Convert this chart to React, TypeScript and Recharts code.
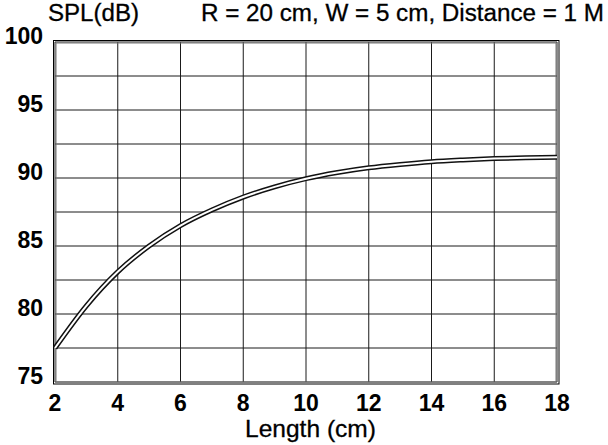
import React from 'react';
import { CartesianGrid, Line, LineChart, ReferenceArea, XAxis, YAxis } from 'recharts';

// values
const lengthCm = [2, 3, 4, 5, 6, 7, 8, 9, 10, 11, 12, 13, 14, 15, 16, 17, 18];
const splDb = [77.5, 80.6, 83.1, 85.0, 86.5, 87.65, 88.6, 89.35, 89.95, 90.4, 90.75, 91.0, 91.2, 91.33, 91.43, 91.49, 91.53];
const xTicks = [2, 4, 6, 8, 10, 12, 14, 16, 18];
const yGridTicks = [75, 77.5, 80, 82.5, 85, 87.5, 90, 92.5, 95, 97.5, 100];

const chartTitle = 'R = 20 cm, W = 5 cm, Distance = 1 M';
const yTitle = 'SPL(dB)';
const xTitle = 'Length (cm)';

const data = lengthCm.map((len, i) => ({ len, spl: splDb[i] }));

const FONT = '"Liberation Sans", Arial, sans-serif';

const YTick = (props: any) => {
  const { x, y, payload } = props;
  if (payload.value % 5 !== 0) return null;
  return (
    <text x={x} y={y + 2} textAnchor="end" fontFamily={FONT} fontSize={23} fontWeight={700} fill="#000">
      {payload.value}
    </text>
  );
};

const XTick = (props: any) => {
  const { x, y, payload } = props;
  return (
    <text x={x} y={y + 17} textAnchor="middle" fontFamily={FONT} fontSize={23} fontWeight={700} fill="#000">
      {payload.value}
    </text>
  );
};

// double frame around the plot: black outside, grey inside
const Frame = (props: any) => {
  const { x, y, width, height } = props;
  return (
    <g fill="none">
      <rect x={x - 1.5} y={y - 1.5} width={width + 3.5} height={height + 3.5} stroke="#000" strokeWidth={1} />
      <rect x={x + 1} y={y + 1} width={width - 2} height={height - 1} stroke="#777" strokeWidth={1} />
    </g>
  );
};

export default function App() {
  return (
    <div style={{ position: 'absolute', left: 0, top: 0, width: 608, height: 445, background: '#fff' }}>
      <LineChart width={608} height={445} data={data} margin={{ top: 42, right: 51, bottom: 33, left: 0 }}>
        <CartesianGrid stroke="#1a1a1a" strokeWidth={1} />
        <XAxis
          dataKey="len"
          type="number"
          domain={[2, 18]}
          ticks={xTicks}
          height={30}
          axisLine={false}
          tickLine={false}
          tickSize={0}
          tickMargin={12}
          tick={<XTick />}
          interval={0}
        />
        <YAxis
          type="number"
          domain={[75, 100]}
          ticks={yGridTicks}
          width={55}
          axisLine={false}
          tickLine={false}
          tickSize={0}
          tickMargin={12}
          tick={<YTick />}
          interval={0}
        />
        <ReferenceArea x1={2} x2={18} y1={75} y2={100} shape={<Frame />} ifOverflow="visible" />
        <Line dataKey="spl" type="monotone" stroke="#111" strokeWidth={5} dot={false} isAnimationActive={false} />
        <Line dataKey="spl" type="monotone" stroke="#fff" strokeWidth={2} dot={false} isAnimationActive={false} />
      </LineChart>
      <svg width={608} height={445} style={{ position: 'absolute', left: 0, top: 0, pointerEvents: 'none' }}>
        <text x={48} y={21} fontFamily={FONT} fontSize={23} textLength={91} lengthAdjust="spacingAndGlyphs" fill="#000" stroke="#000" strokeWidth={0.3}>
          {yTitle}
        </text>
        <text x={201} y={21} fontFamily={FONT} fontSize={23} textLength={403} lengthAdjust="spacingAndGlyphs" fill="#000" stroke="#000" strokeWidth={0.3}>
          {chartTitle}
        </text>
        <text x={245} y={437} fontFamily={FONT} fontSize={24} textLength={131} lengthAdjust="spacingAndGlyphs" fill="#000" stroke="#000" strokeWidth={0.3}>
          {xTitle}
        </text>
      </svg>
    </div>
  );
}
